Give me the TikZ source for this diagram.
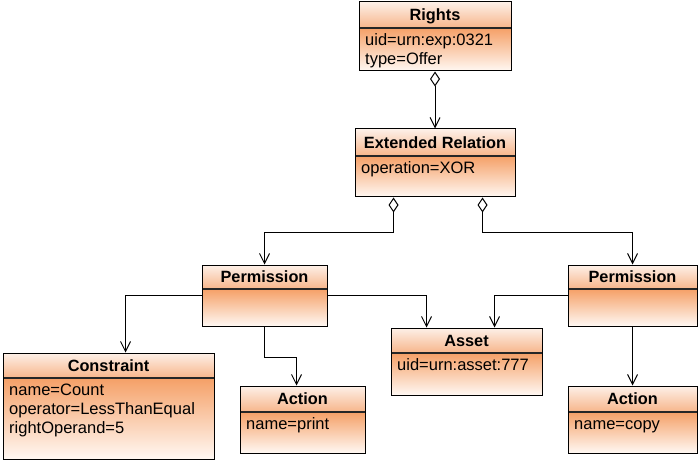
\documentclass[tikz,border=0pt]{standalone}
\usepackage{fontspec}
\setmainfont{Liberation Sans}
\usetikzlibrary{arrows.meta,fit,calc}
\definecolor{hdtop}{HTML}{FDF0E8}
\definecolor{hdbot}{HTML}{F7B58A}
\definecolor{bdtop}{HTML}{F5A067}
\definecolor{bdbot}{HTML}{FFF8F3}
\tikzset{
  boxline/.style={draw=black, line width=1pt},
  divline/.style={draw=black!85, line width=1.4pt},
  titletext/.style={font=\fontsize{16.3}{18}\selectfont\bfseries, inner sep=0pt, anchor=base},
  bodytext/.style={font=\fontsize{16.5}{19}\selectfont, inner sep=0pt, anchor=north west, align=left},
  conn/.style={draw=black, line width=1pt, -{Straight Barb[length=10pt,width=10pt,line width=1pt]}},
  agg/.style={draw=black, line width=1pt, {Diamond[open,length=15pt,width=10pt,line width=1pt]}-{Straight Barb[length=10pt,width=10pt,line width=1pt]}}
}
\newcommand\bodystrut{\rule{0pt}{12.5pt}}
% #1 name, #2 x1, #3 y1, #4 x2, #5 y2, #6 ydiv, #7 title, #8 body
\newcommand\umlbox[8]{%
  \shade[top color=hdtop,bottom color=hdbot] (#2,#3) rectangle (#4,#6);
  \shade[top color=bdtop,bottom color=bdbot] (#2,#6) rectangle (#4,#5);
  \draw[divline] (#2,#6) -- (#4,#6);
  \node[boxline, fit={(#2,#3)(#4,#5)}, inner sep=0pt, rectangle] (#1) {};
  \node[titletext] (#1-t) at ({(#2+#4)/2},{(#3+#6)/2+5.8}) {#7};
  \node[bodytext] (#1-b) at ({#2+6},{#6+4.5}) {\bodystrut#8};
}
\begin{document}
\begin{tikzpicture}[x=1pt,y=-1pt]
\useasboundingbox (0,0) rectangle (698,462);
\umlbox{rights}{359}{2}{511}{71}{28}{Rights}{uid=urn:exp:0321\\type=Offer}
\umlbox{ext}{355}{129}{515}{197}{156}{Extended Relation}{operation=XOR}
\umlbox{permL}{202}{265}{327}{326}{289}{Permission}{}
\umlbox{permR}{568}{265}{697}{326}{289}{Permission}{}
\umlbox{asset}{391}{328}{542}{395}{353}{Asset}{uid=urn:asset:777}
\umlbox{con}{3}{353}{214}{459}{378}{Constraint}{name=Count\\operator=LessThanEqual\\rightOperand=5}
\umlbox{actL}{240}{386}{365}{453}{412}{Action}{name=print}
\umlbox{actR}{568}{386}{697}{453}{412}{Action}{name=copy}

\draw[agg] (rights.south) -- (ext.north);
\draw[agg] ([xshift=39pt]ext.south west) -- ++(0,35) -| (permL.north);
\draw[agg] ([xshift=-33pt]ext.south east) -- ++(0,35) -| (permR.north);
\draw[conn] (permL.west) -| ([xshift=123pt]con.north west);
\draw[conn] (permL.east) -| ([xshift=36pt]asset.north west);
\draw[conn] (permR.west) -| ([xshift=104pt]asset.north west);
\draw[conn] (permL.south) -- ++(0,31) -| ([xshift=57pt]actL.north west);
\draw[conn] (permR.south) -- (actR.north);
\end{tikzpicture}
\end{document}
